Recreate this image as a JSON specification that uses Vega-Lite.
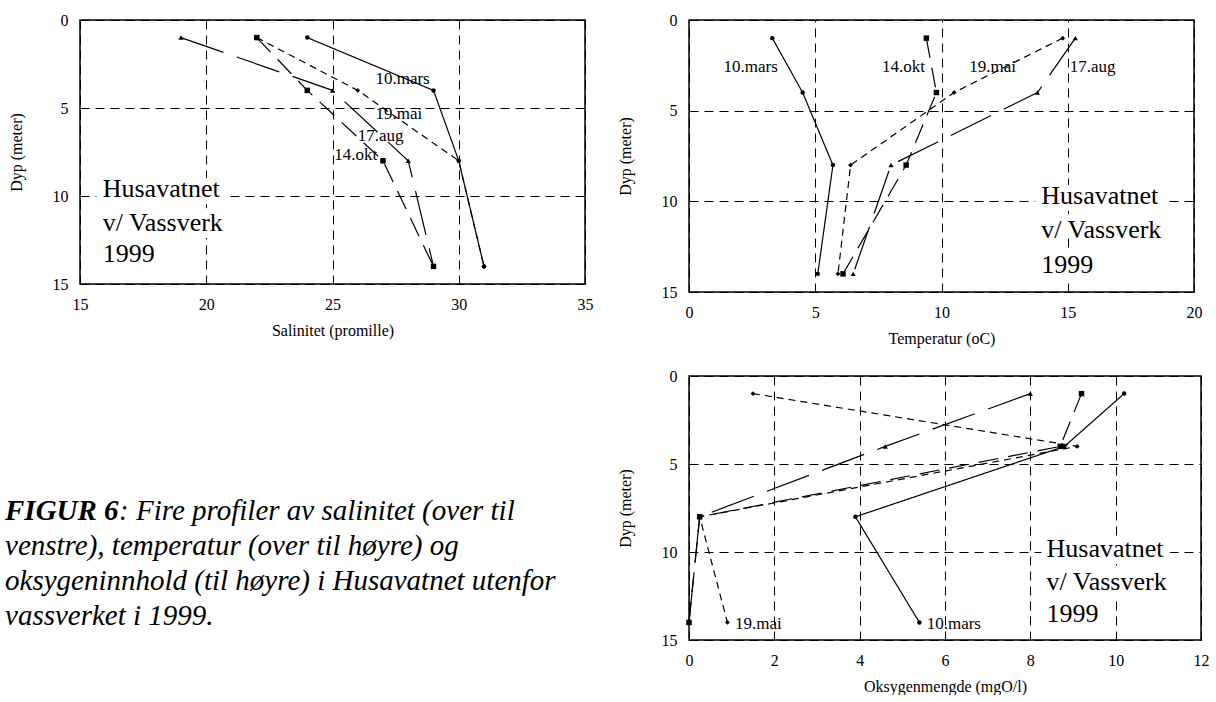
{
  "$schema": "https://vega.github.io/schema/vega-lite/v6.json",
  "padding": {"left": 5, "top": 11, "right": 0, "bottom": 0},
  "background": "white",
  "datasets": {
    "profiles": [
      {"panel": "sal", "series": "10.mars", "depth": 1, "value": 24},
      {"panel": "sal", "series": "10.mars", "depth": 4, "value": 29},
      {"panel": "sal", "series": "10.mars", "depth": 8, "value": 30},
      {"panel": "sal", "series": "10.mars", "depth": 14, "value": 31},
      {"panel": "sal", "series": "19.mai", "depth": 1, "value": 22},
      {"panel": "sal", "series": "19.mai", "depth": 4, "value": 26},
      {"panel": "sal", "series": "19.mai", "depth": 8, "value": 30},
      {"panel": "sal", "series": "19.mai", "depth": 14, "value": 31},
      {"panel": "sal", "series": "17.aug", "depth": 1, "value": 19},
      {"panel": "sal", "series": "17.aug", "depth": 4, "value": 25},
      {"panel": "sal", "series": "17.aug", "depth": 8, "value": 28},
      {"panel": "sal", "series": "17.aug", "depth": 14, "value": 29},
      {"panel": "sal", "series": "14.okt", "depth": 1, "value": 22},
      {"panel": "sal", "series": "14.okt", "depth": 4, "value": 24},
      {"panel": "sal", "series": "14.okt", "depth": 8, "value": 27},
      {"panel": "sal", "series": "14.okt", "depth": 14, "value": 29},
      {"panel": "temp", "series": "10.mars", "depth": 1, "value": 3.3},
      {"panel": "temp", "series": "10.mars", "depth": 4, "value": 4.5},
      {"panel": "temp", "series": "10.mars", "depth": 8, "value": 5.7},
      {"panel": "temp", "series": "10.mars", "depth": 14, "value": 5.1},
      {"panel": "temp", "series": "19.mai", "depth": 1, "value": 14.8},
      {"panel": "temp", "series": "19.mai", "depth": 4, "value": 10.5},
      {"panel": "temp", "series": "19.mai", "depth": 8, "value": 6.4},
      {"panel": "temp", "series": "19.mai", "depth": 14, "value": 5.9},
      {"panel": "temp", "series": "17.aug", "depth": 1, "value": 15.3},
      {"panel": "temp", "series": "17.aug", "depth": 4, "value": 13.8},
      {"panel": "temp", "series": "17.aug", "depth": 8, "value": 8.0},
      {"panel": "temp", "series": "17.aug", "depth": 14, "value": 6.5},
      {"panel": "temp", "series": "14.okt", "depth": 1, "value": 9.4},
      {"panel": "temp", "series": "14.okt", "depth": 4, "value": 9.8},
      {"panel": "temp", "series": "14.okt", "depth": 8, "value": 8.6},
      {"panel": "temp", "series": "14.okt", "depth": 14, "value": 6.1},
      {"panel": "oks", "series": "10.mars", "depth": 1, "value": 10.2},
      {"panel": "oks", "series": "10.mars", "depth": 4, "value": 8.8},
      {"panel": "oks", "series": "10.mars", "depth": 8, "value": 3.9},
      {"panel": "oks", "series": "10.mars", "depth": 14, "value": 5.4},
      {"panel": "oks", "series": "19.mai", "depth": 1, "value": 1.5},
      {"panel": "oks", "series": "19.mai", "depth": 4, "value": 9.1},
      {"panel": "oks", "series": "19.mai", "depth": 8, "value": 0.25},
      {"panel": "oks", "series": "19.mai", "depth": 14, "value": 0.9},
      {"panel": "oks", "series": "17.aug", "depth": 1, "value": 8.0},
      {"panel": "oks", "series": "17.aug", "depth": 4, "value": 4.6},
      {"panel": "oks", "series": "17.aug", "depth": 8, "value": 0.25},
      {"panel": "oks", "series": "17.aug", "depth": 14, "value": 0},
      {"panel": "oks", "series": "14.okt", "depth": 1, "value": 9.2},
      {"panel": "oks", "series": "14.okt", "depth": 4, "value": 8.7},
      {"panel": "oks", "series": "14.okt", "depth": 8, "value": 0.25},
      {"panel": "oks", "series": "14.okt", "depth": 14, "value": 0}
    ],
    "labels": [
      {"panel": "sal", "kind": "series", "text": "10.mars", "value": 26.7, "depth": 3.33},
      {"panel": "sal", "kind": "series", "text": "19.mai", "value": 26.7, "depth": 5.36},
      {"panel": "sal", "kind": "series", "text": "17.aug", "value": 26.0, "depth": 6.59},
      {"panel": "sal", "kind": "series", "text": "14.okt", "value": 25.07, "depth": 7.67},
      {"panel": "sal", "kind": "station", "text": "Husavatnet", "value": 15.9, "depth": 9.62},
      {"panel": "sal", "kind": "station", "text": "v/ Vassverk", "value": 15.9, "depth": 11.52},
      {"panel": "sal", "kind": "station", "text": "1999", "value": 15.9, "depth": 13.31},
      {"panel": "temp", "kind": "series", "text": "10.mars", "value": 1.37, "depth": 2.58},
      {"panel": "temp", "kind": "series", "text": "14.okt", "value": 7.64, "depth": 2.58},
      {"panel": "temp", "kind": "series", "text": "19.mai", "value": 11.1, "depth": 2.58},
      {"panel": "temp", "kind": "series", "text": "17.aug", "value": 15.08, "depth": 2.58},
      {"panel": "temp", "kind": "station", "text": "Husavatnet", "value": 13.95, "depth": 9.72},
      {"panel": "temp", "kind": "station", "text": "v/ Vassverk", "value": 13.95, "depth": 11.57},
      {"panel": "temp", "kind": "station", "text": "1999", "value": 13.95, "depth": 13.5},
      {"panel": "oks", "kind": "series", "text": "19.mai", "value": 1.08, "depth": 14.09},
      {"panel": "oks", "kind": "series", "text": "10.mars", "value": 5.57, "depth": 14.09},
      {"panel": "oks", "kind": "station", "text": "Husavatnet", "value": 8.38, "depth": 9.85},
      {"panel": "oks", "kind": "station", "text": "v/ Vassverk", "value": 8.38, "depth": 11.68},
      {"panel": "oks", "kind": "station", "text": "1999", "value": 8.38, "depth": 13.53}
    ],
    "caption": [
      {"line": 1, "part": "bold", "text": "FIGUR 6"},
      {"line": 1, "part": "rest", "text": ": Fire profiler av salinitet (over til"},
      {"line": 2, "part": "plain", "text": "venstre), temperatur (over til høyre) og"},
      {"line": 3, "part": "plain", "text": "oksygeninnhold (til høyre) i Husavatnet utenfor"},
      {"line": 4, "part": "plain", "text": "vassverket i 1999."}
    ]
  },
  "hconcat": [
    {
      "vconcat": [
        {
          "width": 505,
          "height": 264,
          "layer": [
            {
              "data": {"name": "profiles"},
              "transform": [{"filter": "datum.panel === 'sal'"}],
              "mark": {"type": "line", "strokeWidth": 1.2, "color": "black"},
              "encoding": {
                "x": {"field": "value", "type": "quantitative", "scale": {"domain": [15, 35], "nice": false, "zero": false}, "axis": {"values": [15, 20, 25, 30, 35], "title": "Salinitet (promille)"}},
                "y": {"field": "depth", "type": "quantitative", "scale": {"domain": [0, 15], "nice": false, "reverse": true}, "axis": {"values": [0, 5, 10, 15], "title": "Dyp (meter)"}},
                "strokeDash": {"field": "series", "type": "nominal", "scale": {"domain": ["10.mars", "19.mai", "17.aug", "14.okt"], "range": [[1, 0], [7, 5], [45, 14], [20, 10]]}, "legend": null},
                "order": {"field": "depth", "type": "quantitative"}
              }
            },
            {
              "data": {"name": "profiles"},
              "transform": [{"filter": "datum.panel === 'sal'"}],
              "mark": {"type": "point", "filled": true, "color": "black", "opacity": 1},
              "encoding": {
                "x": {"field": "value", "type": "quantitative"},
                "y": {"field": "depth", "type": "quantitative"},
                "shape": {"field": "series", "type": "nominal", "scale": {"domain": ["10.mars", "19.mai", "17.aug", "14.okt"], "range": ["circle", "diamond", "triangle-up", "square"]}, "legend": null},
                "size": {"field": "series", "type": "nominal", "scale": {"domain": ["10.mars", "19.mai", "17.aug", "14.okt"], "range": [20, 30, 30, 55]}, "legend": null}
              }
            },
            {
              "data": {"name": "labels"},
              "transform": [{"filter": "datum.panel === 'sal' && datum.kind === 'series'"}],
              "mark": {"type": "text", "align": "left", "baseline": "middle", "fontSize": 17, "font": "Liberation Serif", "color": "black"},
              "encoding": {"x": {"field": "value", "type": "quantitative"}, "y": {"field": "depth", "type": "quantitative"}, "text": {"field": "text"}}
            },
            {
              "data": {"name": "labels"},
              "transform": [{"filter": "datum.panel === 'sal' && datum.kind === 'station'"}],
              "mark": {"type": "text", "align": "left", "baseline": "middle", "fontSize": 26, "font": "Liberation Serif", "color": "white", "stroke": "white", "strokeWidth": 14, "strokeJoin": "round"},
              "encoding": {"x": {"field": "value", "type": "quantitative"}, "y": {"field": "depth", "type": "quantitative"}, "text": {"field": "text"}}
            },
            {
              "data": {"name": "labels"},
              "transform": [{"filter": "datum.panel === 'sal' && datum.kind === 'station'"}],
              "mark": {"type": "text", "align": "left", "baseline": "middle", "fontSize": 26, "font": "Liberation Serif", "color": "black"},
              "encoding": {"x": {"field": "value", "type": "quantitative"}, "y": {"field": "depth", "type": "quantitative"}, "text": {"field": "text"}}
            }
          ]
        },
        {
          "width": 505,
          "height": 140,
          "view": {"stroke": null},
          "data": {"name": "caption"},
          "encoding": {
            "x": {"datum": -0.1485, "type": "quantitative", "scale": {"domain": [0, 1]}, "axis": null},
            "y": {"field": "line", "type": "ordinal", "scale": {"type": "point", "domain": [1, 2, 3, 4], "padding": 0.5}, "axis": null},
            "text": {"field": "text"}
          },
          "layer": [
            {"transform": [{"filter": "datum.part === 'bold'"}], "mark": {"type": "text", "align": "left", "baseline": "alphabetic", "fontSize": 29, "fontStyle": "italic", "fontWeight": "bold", "font": "Liberation Serif", "color": "black"}},
            {"transform": [{"filter": "datum.part === 'rest'"}], "mark": {"type": "text", "align": "left", "baseline": "alphabetic", "fontSize": 29, "fontStyle": "italic", "font": "Liberation Serif", "color": "black", "dx": 114}},
            {"transform": [{"filter": "datum.part === 'plain'"}], "mark": {"type": "text", "align": "left", "baseline": "alphabetic", "fontSize": 29, "fontStyle": "italic", "font": "Liberation Serif", "color": "black"}}
          ]
        }
      ],
      "spacing": 157
    },
    {
      "vconcat": [
        {
          "width": 505,
          "height": 272,
          "layer": [
            {
              "data": {"name": "profiles"},
              "transform": [{"filter": "datum.panel === 'temp'"}],
              "mark": {"type": "line", "strokeWidth": 1.2, "color": "black"},
              "encoding": {
                "x": {"field": "value", "type": "quantitative", "scale": {"domain": [0, 20], "nice": false}, "axis": {"values": [0, 5, 10, 15, 20], "title": "Temperatur (oC)"}},
                "y": {"field": "depth", "type": "quantitative", "scale": {"domain": [0, 15], "nice": false, "reverse": true}, "axis": {"values": [0, 5, 10, 15], "title": "Dyp (meter)"}},
                "strokeDash": {"field": "series", "type": "nominal", "scale": {"domain": ["10.mars", "19.mai", "17.aug", "14.okt"], "range": [[1, 0], [7, 5], [45, 14], [20, 10]]}, "legend": null},
                "order": {"field": "depth", "type": "quantitative"}
              }
            },
            {
              "data": {"name": "profiles"},
              "transform": [{"filter": "datum.panel === 'temp'"}],
              "mark": {"type": "point", "filled": true, "color": "black", "opacity": 1},
              "encoding": {
                "x": {"field": "value", "type": "quantitative"},
                "y": {"field": "depth", "type": "quantitative"},
                "shape": {"field": "series", "type": "nominal", "scale": {"domain": ["10.mars", "19.mai", "17.aug", "14.okt"], "range": ["circle", "diamond", "triangle-up", "square"]}, "legend": null},
                "size": {"field": "series", "type": "nominal", "scale": {"domain": ["10.mars", "19.mai", "17.aug", "14.okt"], "range": [20, 30, 30, 55]}, "legend": null}
              }
            },
            {
              "data": {"name": "labels"},
              "transform": [{"filter": "datum.panel === 'temp' && datum.kind === 'series'"}],
              "mark": {"type": "text", "align": "left", "baseline": "middle", "fontSize": 17, "font": "Liberation Serif", "color": "black"},
              "encoding": {"x": {"field": "value", "type": "quantitative"}, "y": {"field": "depth", "type": "quantitative"}, "text": {"field": "text"}}
            },
            {
              "data": {"name": "labels"},
              "transform": [{"filter": "datum.panel === 'temp' && datum.kind === 'station'"}],
              "mark": {"type": "text", "align": "left", "baseline": "middle", "fontSize": 26, "font": "Liberation Serif", "color": "white", "stroke": "white", "strokeWidth": 14, "strokeJoin": "round"},
              "encoding": {"x": {"field": "value", "type": "quantitative"}, "y": {"field": "depth", "type": "quantitative"}, "text": {"field": "text"}}
            },
            {
              "data": {"name": "labels"},
              "transform": [{"filter": "datum.panel === 'temp' && datum.kind === 'station'"}],
              "mark": {"type": "text", "align": "left", "baseline": "middle", "fontSize": 26, "font": "Liberation Serif", "color": "black"},
              "encoding": {"x": {"field": "value", "type": "quantitative"}, "y": {"field": "depth", "type": "quantitative"}, "text": {"field": "text"}}
            }
          ]
        },
        {
          "width": 512,
          "height": 264,
          "layer": [
            {
              "data": {"name": "profiles"},
              "transform": [{"filter": "datum.panel === 'oks'"}],
              "mark": {"type": "line", "strokeWidth": 1.2, "color": "black"},
              "encoding": {
                "x": {"field": "value", "type": "quantitative", "scale": {"domain": [0, 12], "nice": false}, "axis": {"values": [0, 2, 4, 6, 8, 10, 12], "title": "Oksygenmengde (mgO/l)"}},
                "y": {"field": "depth", "type": "quantitative", "scale": {"domain": [0, 15], "nice": false, "reverse": true}, "axis": {"values": [0, 5, 10, 15], "title": "Dyp (meter)"}},
                "strokeDash": {"field": "series", "type": "nominal", "scale": {"domain": ["10.mars", "19.mai", "17.aug", "14.okt"], "range": [[1, 0], [7, 5], [45, 14], [20, 10]]}, "legend": null},
                "order": {"field": "depth", "type": "quantitative"}
              }
            },
            {
              "data": {"name": "profiles"},
              "transform": [{"filter": "datum.panel === 'oks'"}],
              "mark": {"type": "point", "filled": true, "color": "black", "opacity": 1},
              "encoding": {
                "x": {"field": "value", "type": "quantitative"},
                "y": {"field": "depth", "type": "quantitative"},
                "shape": {"field": "series", "type": "nominal", "scale": {"domain": ["10.mars", "19.mai", "17.aug", "14.okt"], "range": ["circle", "diamond", "triangle-up", "square"]}, "legend": null},
                "size": {"field": "series", "type": "nominal", "scale": {"domain": ["10.mars", "19.mai", "17.aug", "14.okt"], "range": [20, 30, 30, 55]}, "legend": null}
              }
            },
            {
              "data": {"name": "labels"},
              "transform": [{"filter": "datum.panel === 'oks' && datum.kind === 'series'"}],
              "mark": {"type": "text", "align": "left", "baseline": "middle", "fontSize": 17, "font": "Liberation Serif", "color": "black"},
              "encoding": {"x": {"field": "value", "type": "quantitative"}, "y": {"field": "depth", "type": "quantitative"}, "text": {"field": "text"}}
            },
            {
              "data": {"name": "labels"},
              "transform": [{"filter": "datum.panel === 'oks' && datum.kind === 'station'"}],
              "mark": {"type": "text", "align": "left", "baseline": "middle", "fontSize": 26, "font": "Liberation Serif", "color": "white", "stroke": "white", "strokeWidth": 14, "strokeJoin": "round"},
              "encoding": {"x": {"field": "value", "type": "quantitative"}, "y": {"field": "depth", "type": "quantitative"}, "text": {"field": "text"}}
            },
            {
              "data": {"name": "labels"},
              "transform": [{"filter": "datum.panel === 'oks' && datum.kind === 'station'"}],
              "mark": {"type": "text", "align": "left", "baseline": "middle", "fontSize": 26, "font": "Liberation Serif", "color": "black"},
              "encoding": {"x": {"field": "value", "type": "quantitative"}, "y": {"field": "depth", "type": "quantitative"}, "text": {"field": "text"}}
            }
          ]
        }
      ],
      "spacing": 20
    }
  ],
  "spacing": 22,
  "config": {
    "view": {"stroke": "black", "strokeWidth": 1.5},
    "axis": {
      "labelFont": "Liberation Serif", "labelFontSize": 16, "labelColor": "black",
      "titleFont": "Liberation Serif", "titleFontSize": 16, "titleFontWeight": "normal", "titleColor": "black",
      "grid": true, "gridColor": "black", "gridDash": [9, 6], "gridWidth": 1, "gridOpacity": 1,
      "domain": false, "ticks": false, "labelFlush": false
    },
    "axisY": {"labelPadding": 12, "titlePadding": 28},
    "axisX": {"labelPadding": 12, "titlePadding": 10}
  }
}
